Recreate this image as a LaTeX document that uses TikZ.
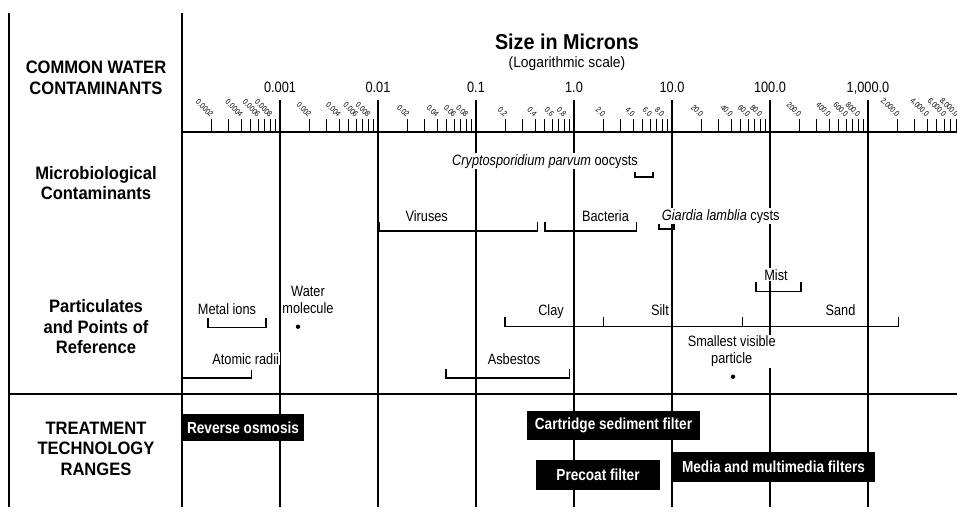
\documentclass[tikz,border=0pt]{standalone}
\usepackage{fontspec}
\setmainfont{Liberation Sans}[FakeStretch=0.85]
\newfontfamily\headfont{Liberation Sans}[FakeStretch=0.92]
\usepackage{tikz}
\usetikzlibrary{positioning, calc}

\begin{document}
\begin{tikzpicture}[x=1pt, y=-1pt,
  lbl/.style={font=\fontsize{15}{17}\selectfont, fill=white, inner sep=1pt},
  head/.style={font=\headfont\bfseries\fontsize{18}{20.5}\selectfont, align=center},
  tech/.style={fill=black, text=white, inner sep=0pt, font=\bfseries\fontsize{16}{18}\selectfont},
  tinylbl/.style={font=\fontsize{8}{9}\selectfont, rotate=-45, anchor=east, inner sep=0.5pt},
  rule/.style={line width=1.5pt},
  sizebar/.style={line width=1.3pt}]
  \def\L{182}\def\D{98}   % 0.0001 micron sits at x=\L, one decade is \D wide
  \useasboundingbox (0,0) rectangle (957,507);
  % frame
  \draw[rule] (9,13) -- (9,507);
  \draw[rule] (\L,13) -- (\L,507);
  \draw[rule] (\L,132) -- (957,132);
  \draw[line width=2pt] (9,394) -- (957,394);
  % minor ticks, 2..9 in every decade
  \foreach \d in {0,...,7}
    \foreach \k in {2,...,9}
      \draw[line width=1pt] ({\L+\D*(\d+log10(\k))},119) -- ++(0,13);
  % slanted tick labels
  \foreach \d/\pre/\post in {0/0.000/{},1/0.00/{},2/0.0/{},3/0./{},4/{}/.0,5/{}/0.0,6/{}/00.0,7/{}/{,000.0}}
    \foreach \k in {2,4,6,8}
      \node[tinylbl] (t\d\k) at ({\L+\D*(\d+log10(\k))+1},116) {\pre\k\post};
  % decade lines and their values
  \foreach \d/\t in {1/0.001,2/0.01,3/0.1,4/1.0,5/10.0,6/100.0,7/{1,000.0}} {
    \draw[rule] (\L+\D*\d,100) -- (\L+\D*\d,507);
    \node[font=\fontsize{15}{17}\selectfont, anchor=base] (dec\d) at (\L+\D*\d,92.5) {\t};
  }
  % title
  \node[font=\headfont\bfseries\fontsize{21.5}{23}\selectfont, anchor=base] (title) at (567,49) {Size in Microns};
  \node[font=\headfont\fontsize{15}{17}\selectfont, below=0pt of title] (scale) {(Logarithmic scale)};
  % row headings
  \node[head] (hcommon) at (96,78) {COMMON WATER\\CONTAMINANTS};
  \node[head] (hmicro) at (96,183) {Microbiological\\Contaminants};
  \node[head] (hpart) at (96,327) {Particulates\\and Points of\\Reference};
  \node[head] (htreat) at (96,448.5) {TREATMENT\\TECHNOLOGY\\RANGES};
  % microbiological ranges
  \node[lbl, anchor=base] (crypto) at (545,165) {\textit{Cryptosporidium parvum} oocysts};
  \draw[sizebar] (635,172) -- (635,177) -- (653,177) -- (653,172);
  \node[lbl, anchor=base] (virus) at (426.7,221.5) {Viruses};
  \draw[sizebar] (379.3,222) -- (379.3,231) -- (537.7,231) -- (537.7,222);
  \node[lbl, anchor=base] (bact) at (605.5,221.5) {Bacteria};
  \draw[sizebar] (545,222) -- (545,231) -- (636.7,231) -- (636.7,222);
  \node[lbl, anchor=base west] (giardia) at (660.7,220) {\textit{Giardia lamblia} cysts};
  \draw[sizebar] (659,224) -- (659,229) -- (674,229) -- (674,224);
  % particulates and points of reference
  \node[lbl, anchor=base] (metal) at (227,314) {Metal ions};
  \draw[sizebar] (208,317.7) -- (208,327.7) -- (266,327.7) -- (266,317.7);
  \node[lbl, align=center] (water) at (308,300) {Water\\molecule};
  \fill (298,326.7) circle (2.2);
  \node[lbl, anchor=base] (atomic) at (245.7,364.3) {Atomic radii};
  \draw[sizebar] (182.7,370) -- (182.7,378) -- (251.7,378) -- (251.7,370);
  \node[lbl, anchor=base] (asbestos) at (514,364.3) {Asbestos};
  \draw[sizebar] (446,369) -- (446,378) -- (569.3,378) -- (569.3,369);
  \node[lbl, anchor=base] (clay) at (551,315) {Clay};
  \node[lbl, anchor=base] (silt) at (660,315) {Silt};
  \node[lbl, anchor=base] (sand) at (840.5,315) {Sand};
  \draw[sizebar] (505,316.7) -- (505,326.7) -- (898.3,326.7) -- (898.3,316.7);
  \draw[sizebar] (603.3,316.7) -- (603.3,326.7) (742.7,316.7) -- (742.7,326.7);
  \node[lbl, anchor=base] (mist) at (776,280) {Mist};
  \draw[sizebar] (756,281.7) -- (756,291.7) -- (801,291.7) -- (801,281.7);
  \node[lbl, align=center] (visible) at (731.7,351) {Smallest visible\\particle};
  \fill (733,376.7) circle (2.2);
  % treatment technology ranges
  \node[tech, minimum width=122, minimum height=27.5] (ro) at (243,427.5) {Reverse osmosis};
  \node[tech, minimum width=173, minimum height=29] (cartridge) at (613.5,425.5) {Cartridge sediment filter};
  \node[tech, minimum width=124, minimum height=30] (precoat) at (598,475) {Precoat filter};
  \node[tech, minimum width=203, minimum height=30] (media) at (773.5,467) {Media and multimedia filters};
\end{tikzpicture}
\end{document}
